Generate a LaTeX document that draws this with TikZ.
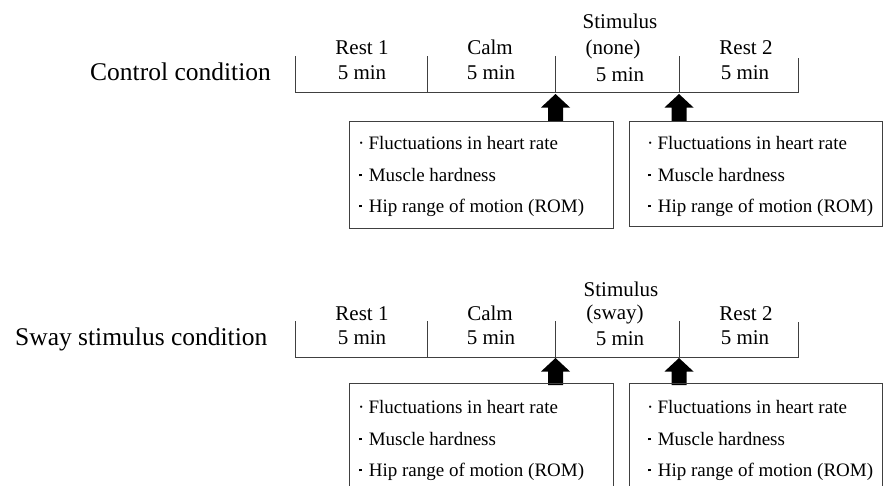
\documentclass[tikz,border=0pt]{standalone}
\usepackage{fontspec}
\setmainfont{Liberation Serif}
\newcommand\mysqdot{\raisebox{0.24em}{\rule{2.6pt}{2.6pt}}}
\newcommand\mylist[3]{%
  \node[item] (#1a) at (#2,#3) {\textperiodcentered\hspace{4pt}Fluctuations in heart rate};
  \node[item] (#1b) at (#2+1,#3+32) {\mysqdot\hspace{7pt}Muscle hardness};
  \node[item] (#1c) at (#2+1,#3+63) {\mysqdot\hspace{7pt}Hip range of motion (ROM)};}
\begin{document}
\begin{tikzpicture}[x=1pt,y=-1pt,
  line/.style={draw=black!75, line width=0.8pt},
  seg/.style={font=\fontsize{21}{21}\selectfont, anchor=base, inner sep=0pt},
  cond/.style={font=\fontsize{25.5}{25.5}\selectfont, anchor=base west, inner sep=0pt},
  item/.style={font=\fontsize{19}{19}\selectfont, anchor=base west, inner sep=0pt},
  box/.style={draw=black!75, line width=0.8pt},
  blockarrow/.pic={\fill[black] (0,0)--(14.5,13.5)--(7.5,13.5)--(7.5,27)--(-7.5,27)--(-7.5,13.5)--(-14.5,13.5)--cycle;}
]
\useasboundingbox (0,0) rectangle (884,485);
\clip (0,0) rectangle (884,485);

% ---------- Control condition ----------
\node[cond] (c1) at (90,80) {Control condition};
\coordinate (a0) at (295,92);
\coordinate (a1) at (427,92);
\coordinate (a2) at (555.5,92);
\coordinate (a3) at (679,92);
\coordinate (a4) at (798,92);
\draw[line] (a0) ++(0,-36) -- (a0) -- (a4) -- ++(0,-34);
\draw[line] (a1) -- ++(0,-36);
\draw[line] (a2) -- ++(0,-36);
\draw[line] (a3) -- ++(0,-36);

\node[seg] (r1a) at (362,54) {Rest 1};
\node[seg] (r1b) at (362,79) {5 min};
\node[seg] (ca) at (490,54) {Calm};
\node[seg] (cb) at (491,79) {5 min};
\node[seg] (sa) at (620,28) {Stimulus};
\node[seg] (sb) at (613,54) {(none)};
\node[seg] (sc) at (620,81) {5 min};
\node[seg] (r2a) at (746,54) {Rest 2};
\node[seg] (r2b) at (745,79) {5 min};

\pic at (555.5,94) {blockarrow};
\pic at (679,94) {blockarrow};

\draw[box] (349,121) rectangle (613,228);
\draw[box] (629,121) rectangle (882,226);
\mylist{p}{358}{149}
\mylist{q}{647}{149}

% ---------- Sway stimulus condition ----------
\node[cond] (c2) at (15,345) {Sway stimulus condition};
\coordinate (b0) at (295,357);
\coordinate (b1) at (427,357);
\coordinate (b2) at (555.5,357);
\coordinate (b3) at (679,357);
\coordinate (b4) at (798,357);
\draw[line] (b0) ++(0,-36) -- (b0) -- (b4) -- ++(0,-35);
\draw[line] (b1) -- ++(0,-36);
\draw[line] (b2) -- ++(0,-36);
\draw[line] (b3) -- ++(0,-36);

\node[seg] (s1a) at (362,320) {Rest 1};
\node[seg] (s1b) at (362,344) {5 min};
\node[seg] (sca) at (490,320) {Calm};
\node[seg] (scb) at (491,344) {5 min};
\node[seg] (ssa) at (621,296) {Stimulus};
\node[seg] (ssb) at (615,319) {(sway)};
\node[seg] (ssc) at (620,345) {5 min};
\node[seg] (s2a) at (746,320) {Rest 2};
\node[seg] (s2b) at (745,344) {5 min};

\pic at (555.5,358) {blockarrow};
\pic at (679,358) {blockarrow};

\draw[box] (349,500) -- (349,383) -- (613,383) -- (613,500);
\draw[box] (629,500) -- (629,383) -- (882,383) -- (882,500);
\mylist{u}{358}{413}
\mylist{v}{647}{413}
\end{tikzpicture}
\end{document}
